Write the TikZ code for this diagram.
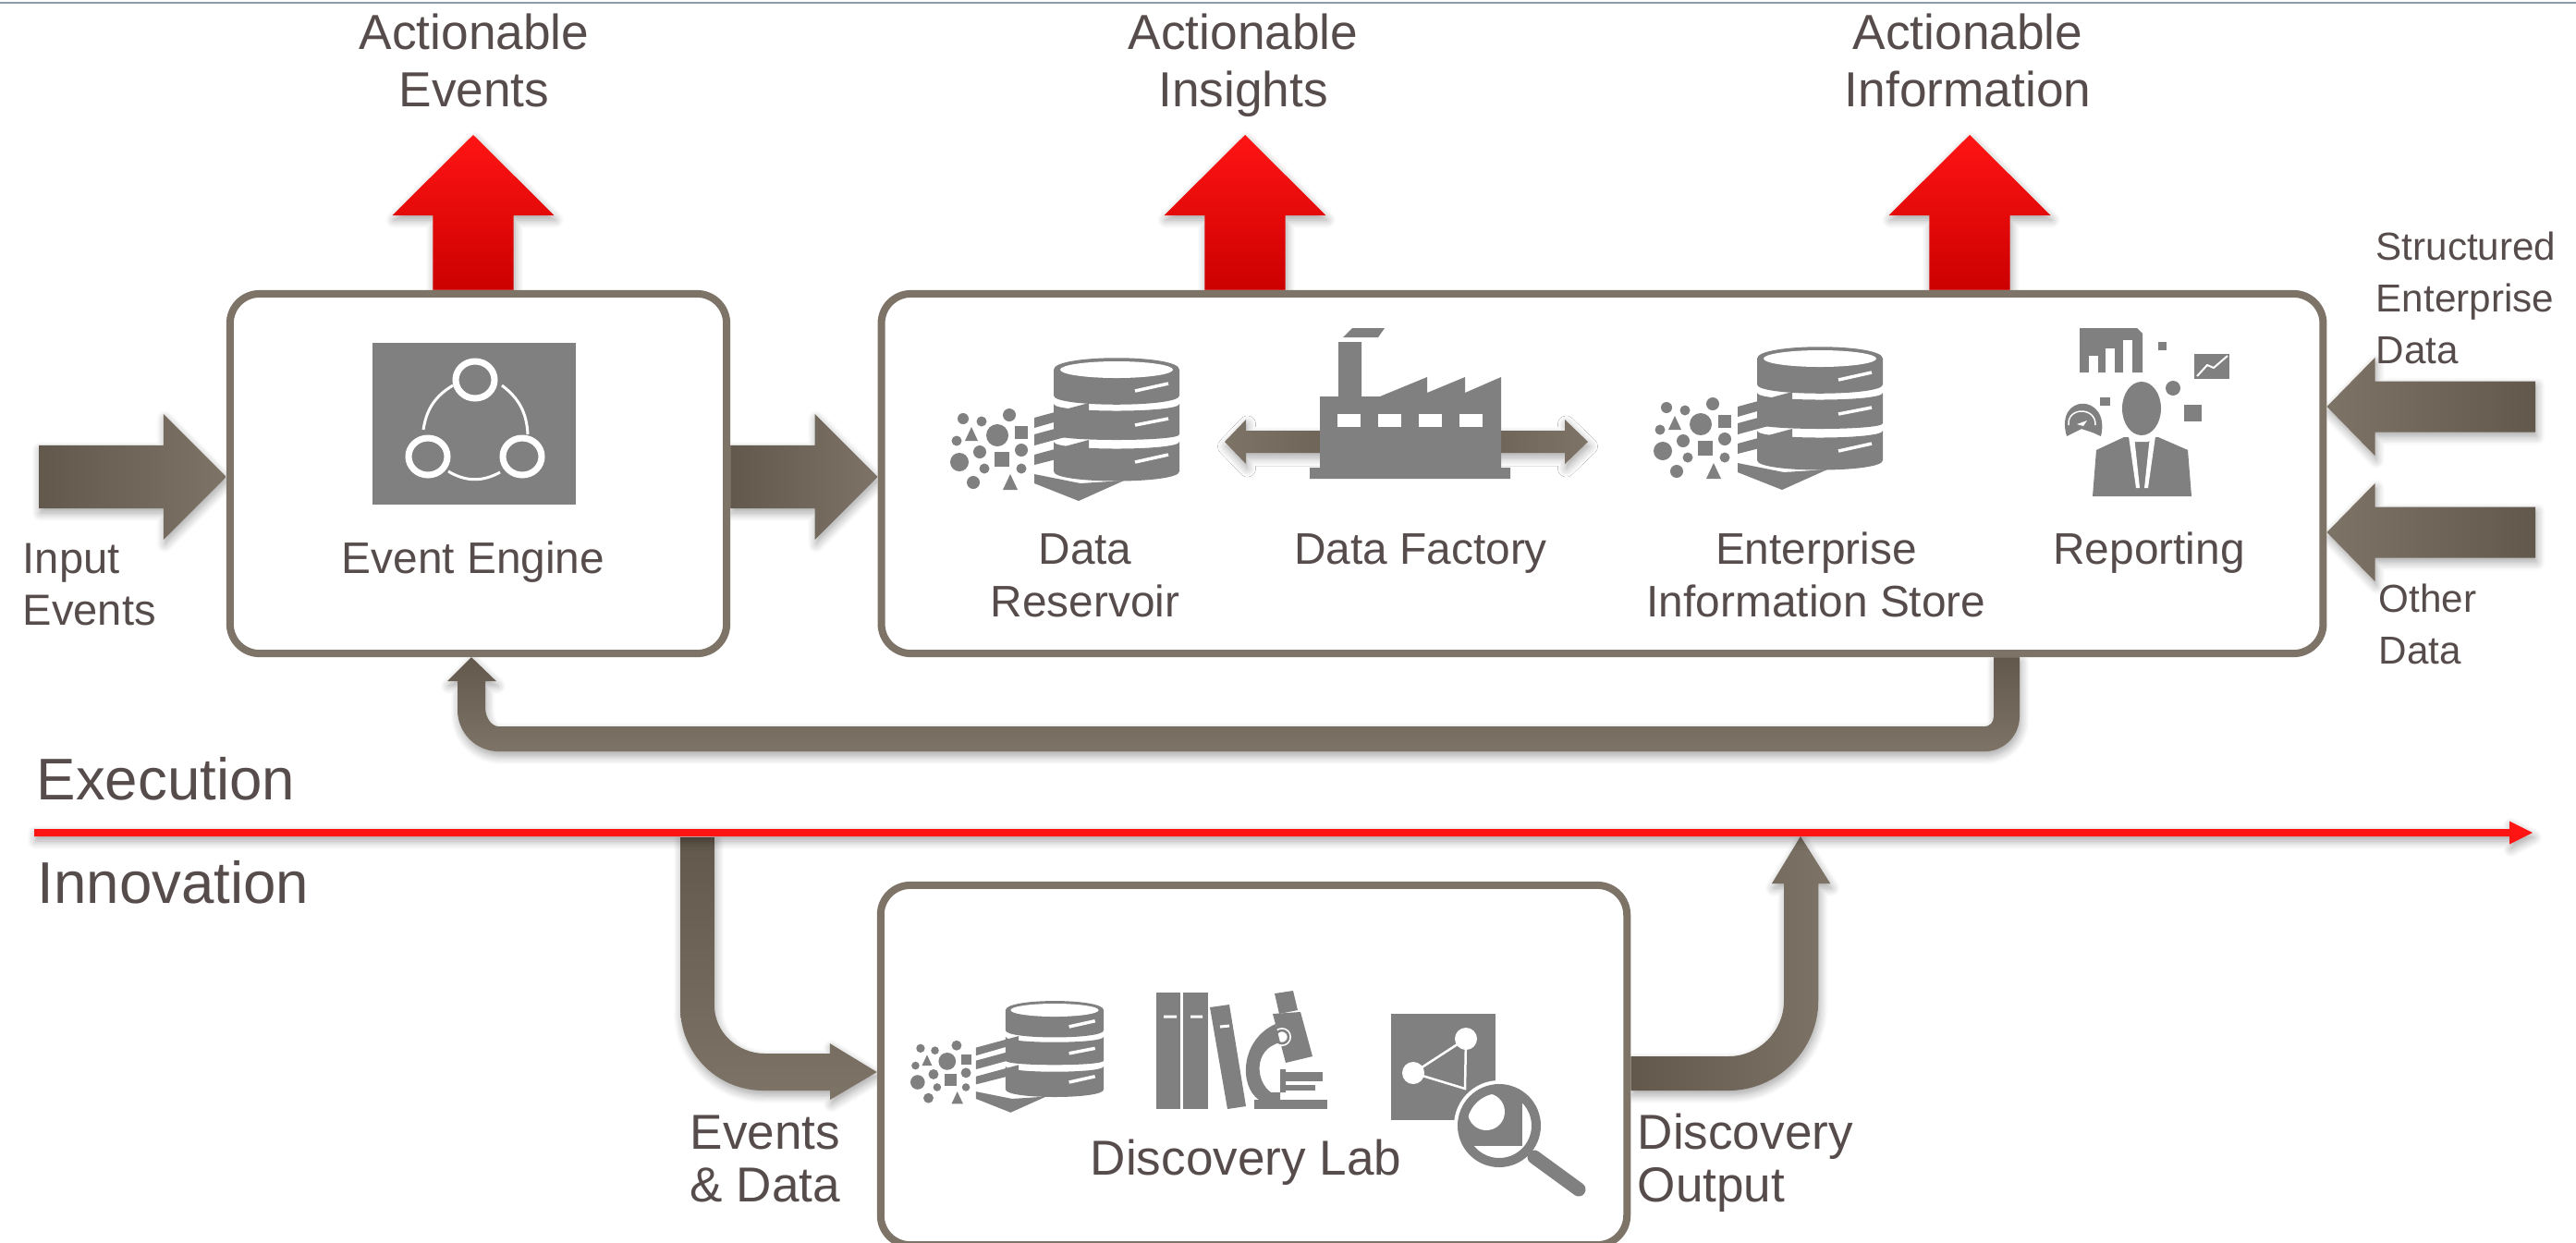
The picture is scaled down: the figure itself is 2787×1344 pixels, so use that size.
\documentclass[tikz,border=0pt]{standalone}
\usepackage{fontspec}
\setmainfont{Liberation Sans}
\usetikzlibrary{calc,backgrounds,shadows.blur}
\definecolor{boxline}{HTML}{7E7367}
\definecolor{brdark}{HTML}{62584C}
\definecolor{brlight}{HTML}{7E7367}
\definecolor{labeltext}{HTML}{574C4C}
\definecolor{icongray}{HTML}{808080}
\definecolor{redbright}{HTML}{FF1414}
\definecolor{redmid}{HTML}{F20A0A}
\definecolor{reddark}{HTML}{CC0000}
\definecolor{rulegray}{HTML}{8C9CAE}
\newcommand{\blockarrow}[6][]{
  \coordinate (neck) at ($(#3)!#6!(#2)$);
  \path[#1] ($(#2)!#4!90:(#3)$) -- ($(neck)!#4!90:(#3)$) -- ($(neck)!#5!90:(#3)$) -- (#3)
    -- ($(neck)!#5!-90:(#3)$) -- ($(neck)!#4!-90:(#3)$) -- ($(#2)!#4!-90:(#3)$) -- cycle;
}
\tikzset{
  pics/dbicon/.style={code={
    \begin{scope}[shift={(#1,0)}]
      \foreach \dx/\dy/\dr in {-166/53/6,-146/56/5.5,-116/49/7,-173/77/5.5,-129/71/12,-148/89/7,
        -103/87/7,-170/100/10,-143/107/5.5,-103/107/5.5,-155/122/7}
        \fill[icongray] (\dx,\dy) circle [radius=\dr];
      \fill[icongray] (-157,62) -- (-150,77) -- (-164,77) -- cycle;
      \fill[icongray] (-115,113) -- (-107,130) -- (-123,130) -- cycle;
      \fill[icongray] (-110,61) rectangle (-96,75);
      \fill[icongray] (-132,89) rectangle (-116,105);
      \fill[icongray] (-89,52) -- (-30,36) -- (-30,46) -- (-89,63) -- cycle;
      \fill[icongray] (-89,70) -- (-30,54) -- (-30,66) -- (-89,82) -- cycle;
      \fill[icongray] (-89,92) -- (-30,76) -- (-30,88) -- (-89,103) -- cycle;
      \fill[icongray] (-89,113) -- (-39,123) -- (8,120) -- (-41,142) -- (-89,123) -- cycle;
    \end{scope}
    \fill[icongray] (-68,0) .. controls (-68,-17) and (68,-17) .. (68,0) -- (68,28)
      .. controls (68,41) and (-68,41) .. (-68,28) -- cycle;
    \fill[icongray] (-68,37) .. controls (-68,47) and (68,47) .. (68,37) -- (68,70)
      .. controls (68,78) and (-68,78) .. (-68,70) -- cycle;
    \fill[icongray] (-68,78) .. controls (-68,88) and (68,88) .. (68,78) -- (68,110)
      .. controls (68,124) and (-68,124) .. (-68,110) -- cycle;
    \fill[white] (0,0) ellipse [x radius=61,y radius=9];
    \draw[white,line width=.035cm] (20,23) -- (56,15) (20,60) -- (56,53) (20,100) -- (56,92);
  }}
}
\begin{document}
\begin{tikzpicture}[x=.01cm,y=-.01cm,
    boxstyle/.style={draw=boxline,line width=.08cm,rounded corners=.32cm,inner sep=0},
    boxfill/.style={fill=white,rounded corners=.32cm},
    textstyle/.style={text=labeltext,inner sep=0},
    toplabel/.style={textstyle,anchor=base,align=center,font=\fontsize{15.15}{17.6}\selectfont},
    boxlabel/.style={textstyle,anchor=base,align=center,font=\fontsize{13.6}{16.2}\selectfont},
    sidelabel/.style={textstyle,anchor=base west,align=left,font=\fontsize{12}{15.9}\selectfont},
    leftlabel/.style={textstyle,anchor=base west,align=left,font=\fontsize{13.4}{15.9}\selectfont},
    zonelabel/.style={textstyle,anchor=base west,font=\fontsize{18.1}{21}\selectfont},
    lablabel/.style={textstyle,anchor=base,align=center,font=\fontsize{15.1}{16.2}\selectfont},
    outlabel/.style={textstyle,anchor=base west,align=left,font=\fontsize{15.1}{16.2}\selectfont},
    shadowed/.style={blur shadow={shadow xshift=.015cm,shadow yshift=-.05cm,shadow blur radius=.09cm,shadow blur steps=8,shadow opacity=35}},
    redblock/.style={shadowed,shade,top color=redbright,middle color=redmid,bottom color=reddark},
    redrule/.style={shadowed,fill=redbright},
    brownright/.style={shadowed,shade,left color=brdark,right color=brlight},
    brownleft/.style={shadowed,shade,right color=brdark,left color=brlight},
    browndown/.style={shadowed,shade,top color=brdark,bottom color=brlight}]
  \useasboundingbox (0,0) rectangle (2787,1344);
  \coordinate (ruleleft) at (0,3);
  \coordinate (ruleright) at (2787,3);
  \draw[rulegray,line width=.02cm] (ruleleft) -- (ruleright);

  \node[boxstyle,minimum width=5.37cm,minimum height=3.89cm] (evtbox) at (517.5,512.5) {};
  \node[boxstyle,minimum width=15.59cm,minimum height=3.89cm] (mainbox) at (1733.5,512.5) {};
  \node[boxstyle,minimum width=8.07cm,minimum height=3.89cm] (labbox) at (1356.5,1152.5) {};

  \coordinate (evtbase) at (512,0 |- evtbox.north);
  \coordinate (evttip) at (512,146);
  \coordinate (insbase) at (1347,0 |- mainbox.north);
  \coordinate (instip) at (1347,146);
  \coordinate (infbase) at (2131,0 |- mainbox.north);
  \coordinate (inftip) at (2131,146);
  \coordinate (inputtail) at (42,516);
  \coordinate (inputtip) at (evtbox.west |- inputtail);
  \coordinate (midtail) at (evtbox.east |- inputtail);
  \coordinate (midtip) at (mainbox.west |- inputtail);
  \coordinate (strtail) at (2743,440);
  \coordinate (strtip) at (mainbox.east |- strtail);
  \coordinate (othtail) at (2743,576);
  \coordinate (othtip) at (mainbox.east |- othtail);
  \coordinate (factcore) at (1522,478);
  \coordinate (factleft) at (1325,478);
  \coordinate (factright) at (1718,478);
  \coordinate (feedout) at (2171,0 |- mainbox.south);
  \coordinate (feedin) at (510,0 |- evtbox.south);
  \coordinate (linestart) at (37,901);
  \coordinate (lineend) at (2740,901);
  \coordinate (evstart) at (754.5,906);
  \coordinate (evtip) at (labbox.west |- 0,1160);
  \coordinate (disctail) at (labbox.east |- 0,1161);
  \coordinate (disctip) at (1948,905);

  \begin{scope}[on background layer]
    \blockarrow[redblock]{evtbase}{evttip}{.435cm}{.875cm}{.87cm}
    \blockarrow[redblock]{insbase}{instip}{.435cm}{.875cm}{.87cm}
    \blockarrow[redblock]{infbase}{inftip}{.435cm}{.875cm}{.87cm}
    \blockarrow[brownright]{inputtail}{inputtip}{.34cm}{.68cm}{.68cm}
    \blockarrow[brownright]{midtail}{midtip}{.34cm}{.68cm}{.68cm}
    \blockarrow[brownleft]{strtail}{strtip}{.275cm}{.53cm}{.52cm}
    \blockarrow[brownleft]{othtail}{othtip}{.275cm}{.53cm}{.52cm}
    \path[browndown] ($(feedout)+(14,0)$) -- ++(0,64) .. controls +(0,21) and +(21,0) .. ++(-38,38)
      -- ++(-1607,0) .. controls +(-25,0) and +(0,25) .. ++(-45,-45) -- ++(0,-31) -- ++(-11,0)
      -- (feedin) -- ++(27,26) -- ++(-12,0) -- ++(0,28) .. controls +(0,12) and +(-8,0) .. ++(15,21)
      -- ++(1607,0) .. controls +(6,0) and +(0,6) .. ++(10,-11) -- ++(0,-64) -- cycle;
    \path[browndown] ($(evstart)+(-18.5,0)$) -- ++(0,184) .. controls +(0,50) and +(-50,0) .. ++(90,90)
      -- ++(72,0) -- ++(0,10) -- (evtip) -- ++(-51,-31) -- ++(0,11) -- ++(-70,0)
      .. controls +(-30,0) and +(0,30) .. ++(-55,-53) -- ++(0,-181) -- cycle;
    \path[brownright] ($(disctail)+(0,19)$) -- ++(106,0) .. controls +(53,0) and +(0,53) .. ++(97,-97)
      -- ++(0,-127) -- ++(13,0) -- (disctip) -- ++(-31,51) -- ++(13,0) -- ++(0,127)
      .. controls +(0,33) and +(33,0) .. ++(-60,60) -- ++(-106,0) -- cycle;
    \blockarrow[redrule]{linestart}{lineend}{.04cm}{.125cm}{.25cm}
    \path[boxfill] (evtbox.south west) rectangle (evtbox.north east);
    \path[boxfill] (mainbox.south west) rectangle (mainbox.north east);
    \path[boxfill] (labbox.south west) rectangle (labbox.north east);
    \blockarrow[brownleft]{factcore}{factleft}{.12cm}{.24cm}{.23cm}
    \blockarrow[brownright]{factcore}{factright}{.12cm}{.24cm}{.25cm}
  \end{scope}

  \fill[icongray] (403,371) rectangle (623,546);
  \draw[white,line width=.07cm] (514,411) ellipse [x radius=21,y radius=20];
  \draw[white,line width=.07cm] (463,494) ellipse [x radius=21,y radius=20];
  \draw[white,line width=.07cm] (565,494) ellipse [x radius=21,y radius=20];
  \draw[white,line width=.03cm] (490,417) to[bend right=25] (458,465);
  \draw[white,line width=.03cm] (543,417) to[bend left=25] (571,470);
  \draw[white,line width=.03cm] (485,510) to[bend right=30] (541,511);

  \pic at (1208,400) {dbicon=0};
  \pic at (1969,388) {dbicon=0};
  \pic[scale=.78] at (1141,1093) {dbicon=-20};

  \fill[icongray] (1453,365) -- (1463,355) -- (1498,355) -- (1491,365) -- cycle;
  \fill[icongray] (1417,518) -- (1417,506) -- (1428,506) -- (1428,429) -- (1448,429) -- (1448,370)
    -- (1473,370) -- (1473,429) -- (1493,429) -- (1544,408) -- (1544,425) -- (1585,408) -- (1585,425)
    -- (1624,408) -- (1624,506) -- (1634,506) -- (1634,518) -- cycle;
  \foreach \wx in {1447,1491,1535,1579}
    \fill[white] (\wx,448) rectangle ++(25,14);

  \fill[icongray] (2250,355) -- (2312,355) -- (2318,361) -- (2318,403) -- (2250,403) -- cycle;
  \fill[white] (2260,385) rectangle (2270,404);
  \fill[white] (2278,377) rectangle (2288,404);
  \fill[white] (2297,368) rectangle (2307,404);
  \fill[icongray] (2335,370) rectangle (2344,379);
  \fill[icongray] (2374,383) rectangle (2412,410);
  \draw[white,line width=.02cm] (2377,407) -- (2388,395) -- (2395,398) -- (2410,385);
  \fill[icongray] (2351,420) circle [radius=8];
  \fill[icongray] (2363,438) rectangle (2382,456);
  \fill[icongray] (2272,430) rectangle (2283,439);
  \fill[icongray] (2317,442) ellipse [x radius=21,y radius=29];
  \fill[icongray] (2264,537) -- (2268,487) -- (2298,473) -- (2335,473) -- (2367,487) -- (2371,537) -- cycle;
  \fill[white] (2303,472) -- (2309,472) -- (2315,528) -- (2311,528) -- cycle;
  \fill[white] (2332,472) -- (2326,472) -- (2320,528) -- (2324,528) -- cycle;
  \fill[white] (2303,472) -- (2332,472) -- (2324,478) -- (2310,478) -- cycle;
  \fill[icongray] (2236,472) .. controls (2222,425) and (2284,425) .. (2273,472)
    -- (2264,468) -- (2252,464) -- (2244,468) -- cycle;
  \draw[white,line width=.015cm] (2238,460) .. controls (2236,440) and (2268,440) .. (2267,460);
  \fill[white] (2247,459) -- (2258,455) -- (2254,461) -- cycle;

  \fill[icongray] (1251,1074) rectangle (1277,1200);
  \fill[icongray] (1280,1074) rectangle (1307,1200);
  \fill[icongray] (1309,1090) -- (1330,1087) -- (1348,1197) -- (1328,1200) -- cycle;
  \draw[white,line width=.03cm] (1259,1100) -- (1273,1100) (1288,1100) -- (1301,1100) (1320,1111) -- (1330,1110);
  \fill[icongray] (1379,1075) -- (1399,1072) -- (1404,1093) -- (1384,1097) -- cycle;
  \fill[icongray] (1377,1097) -- (1407,1095) -- (1420,1143) -- (1391,1150) -- cycle;
  \fill[white] (1387,1122) circle [radius=10];
  \draw[icongray,line width=.025cm] (1387,1122) circle [radius=7];
  \fill[icongray] (1380,1108) .. controls (1342,1125) and (1340,1175) .. (1362,1190) -- (1385,1190)
    -- (1385,1157) -- (1391,1157) -- (1391,1182) -- (1375,1182) .. controls (1358,1170) and (1356,1135) .. (1385,1128) -- cycle;
  \fill[icongray] (1357,1190) rectangle (1436,1200);
  \fill[icongray] (1385,1160) rectangle (1431,1170);
  \fill[icongray] (1391,1174) rectangle (1423,1180);

  \fill[icongray] (1505,1097) rectangle (1618,1212);
  \draw[white,line width=.025cm] (1586,1124) -- (1529,1161) -- (1585,1178) -- cycle;
  \fill[white] (1586,1124) circle [radius=12];
  \fill[white] (1529,1161) circle [radius=12];
  \fill[white] (1622,1218) circle [radius=49];
  \begin{scope}
    \clip (1622,1218) circle [radius=36];
    \fill[icongray] (1575,1170) rectangle (1647,1240);
  \end{scope}
  \fill[white] (1608,1203) circle [radius=20];
  \draw[icongray,line width=.1cm] (1622,1218) circle [radius=40];
  \draw[icongray,line width=.15cm,line cap=round] (1660,1252) -- (1708,1287);

  \node[toplabel] (evtlabel) at (513,115) {Actionable\\Events};
  \node[toplabel] (inslabel) at (1345,115) {Actionable\\Insights};
  \node[toplabel] (inflabel) at (2129,115) {Actionable\\Information};
  \node[leftlabel] (inputlabel) at (24,676) {Input\\Events};
  \node[boxlabel] (enginelabel) at (512,620) {Event Engine};
  \node[boxlabel] (reslabel) at (1174,667) {Data\\Reservoir};
  \node[boxlabel] (factlabel) at (1537,610) {Data Factory};
  \node[boxlabel] (eislabel) at (1965,667) {Enterprise\\Information Store};
  \node[boxlabel] (replabel) at (2325,610) {Reporting};
  \node[sidelabel] (strlabel) at (2570,393) {Structured\\Enterprise\\Data};
  \node[sidelabel] (othlabel) at (2573,718) {Other\\Data};
  \node[zonelabel] (execlabel) at (39,865) {Execution};
  \node[zonelabel] (innolabel) at (40,977) {Innovation};
  \node[lablabel] (evdlabel) at (828,1300) {Events\\\& Data};
  \node[lablabel] (disclabel) at (1348,1271) {Discovery Lab};
  \node[outlabel] (outputlabel) at (1771,1300) {Discovery\\Output};
\end{tikzpicture}
\end{document}
